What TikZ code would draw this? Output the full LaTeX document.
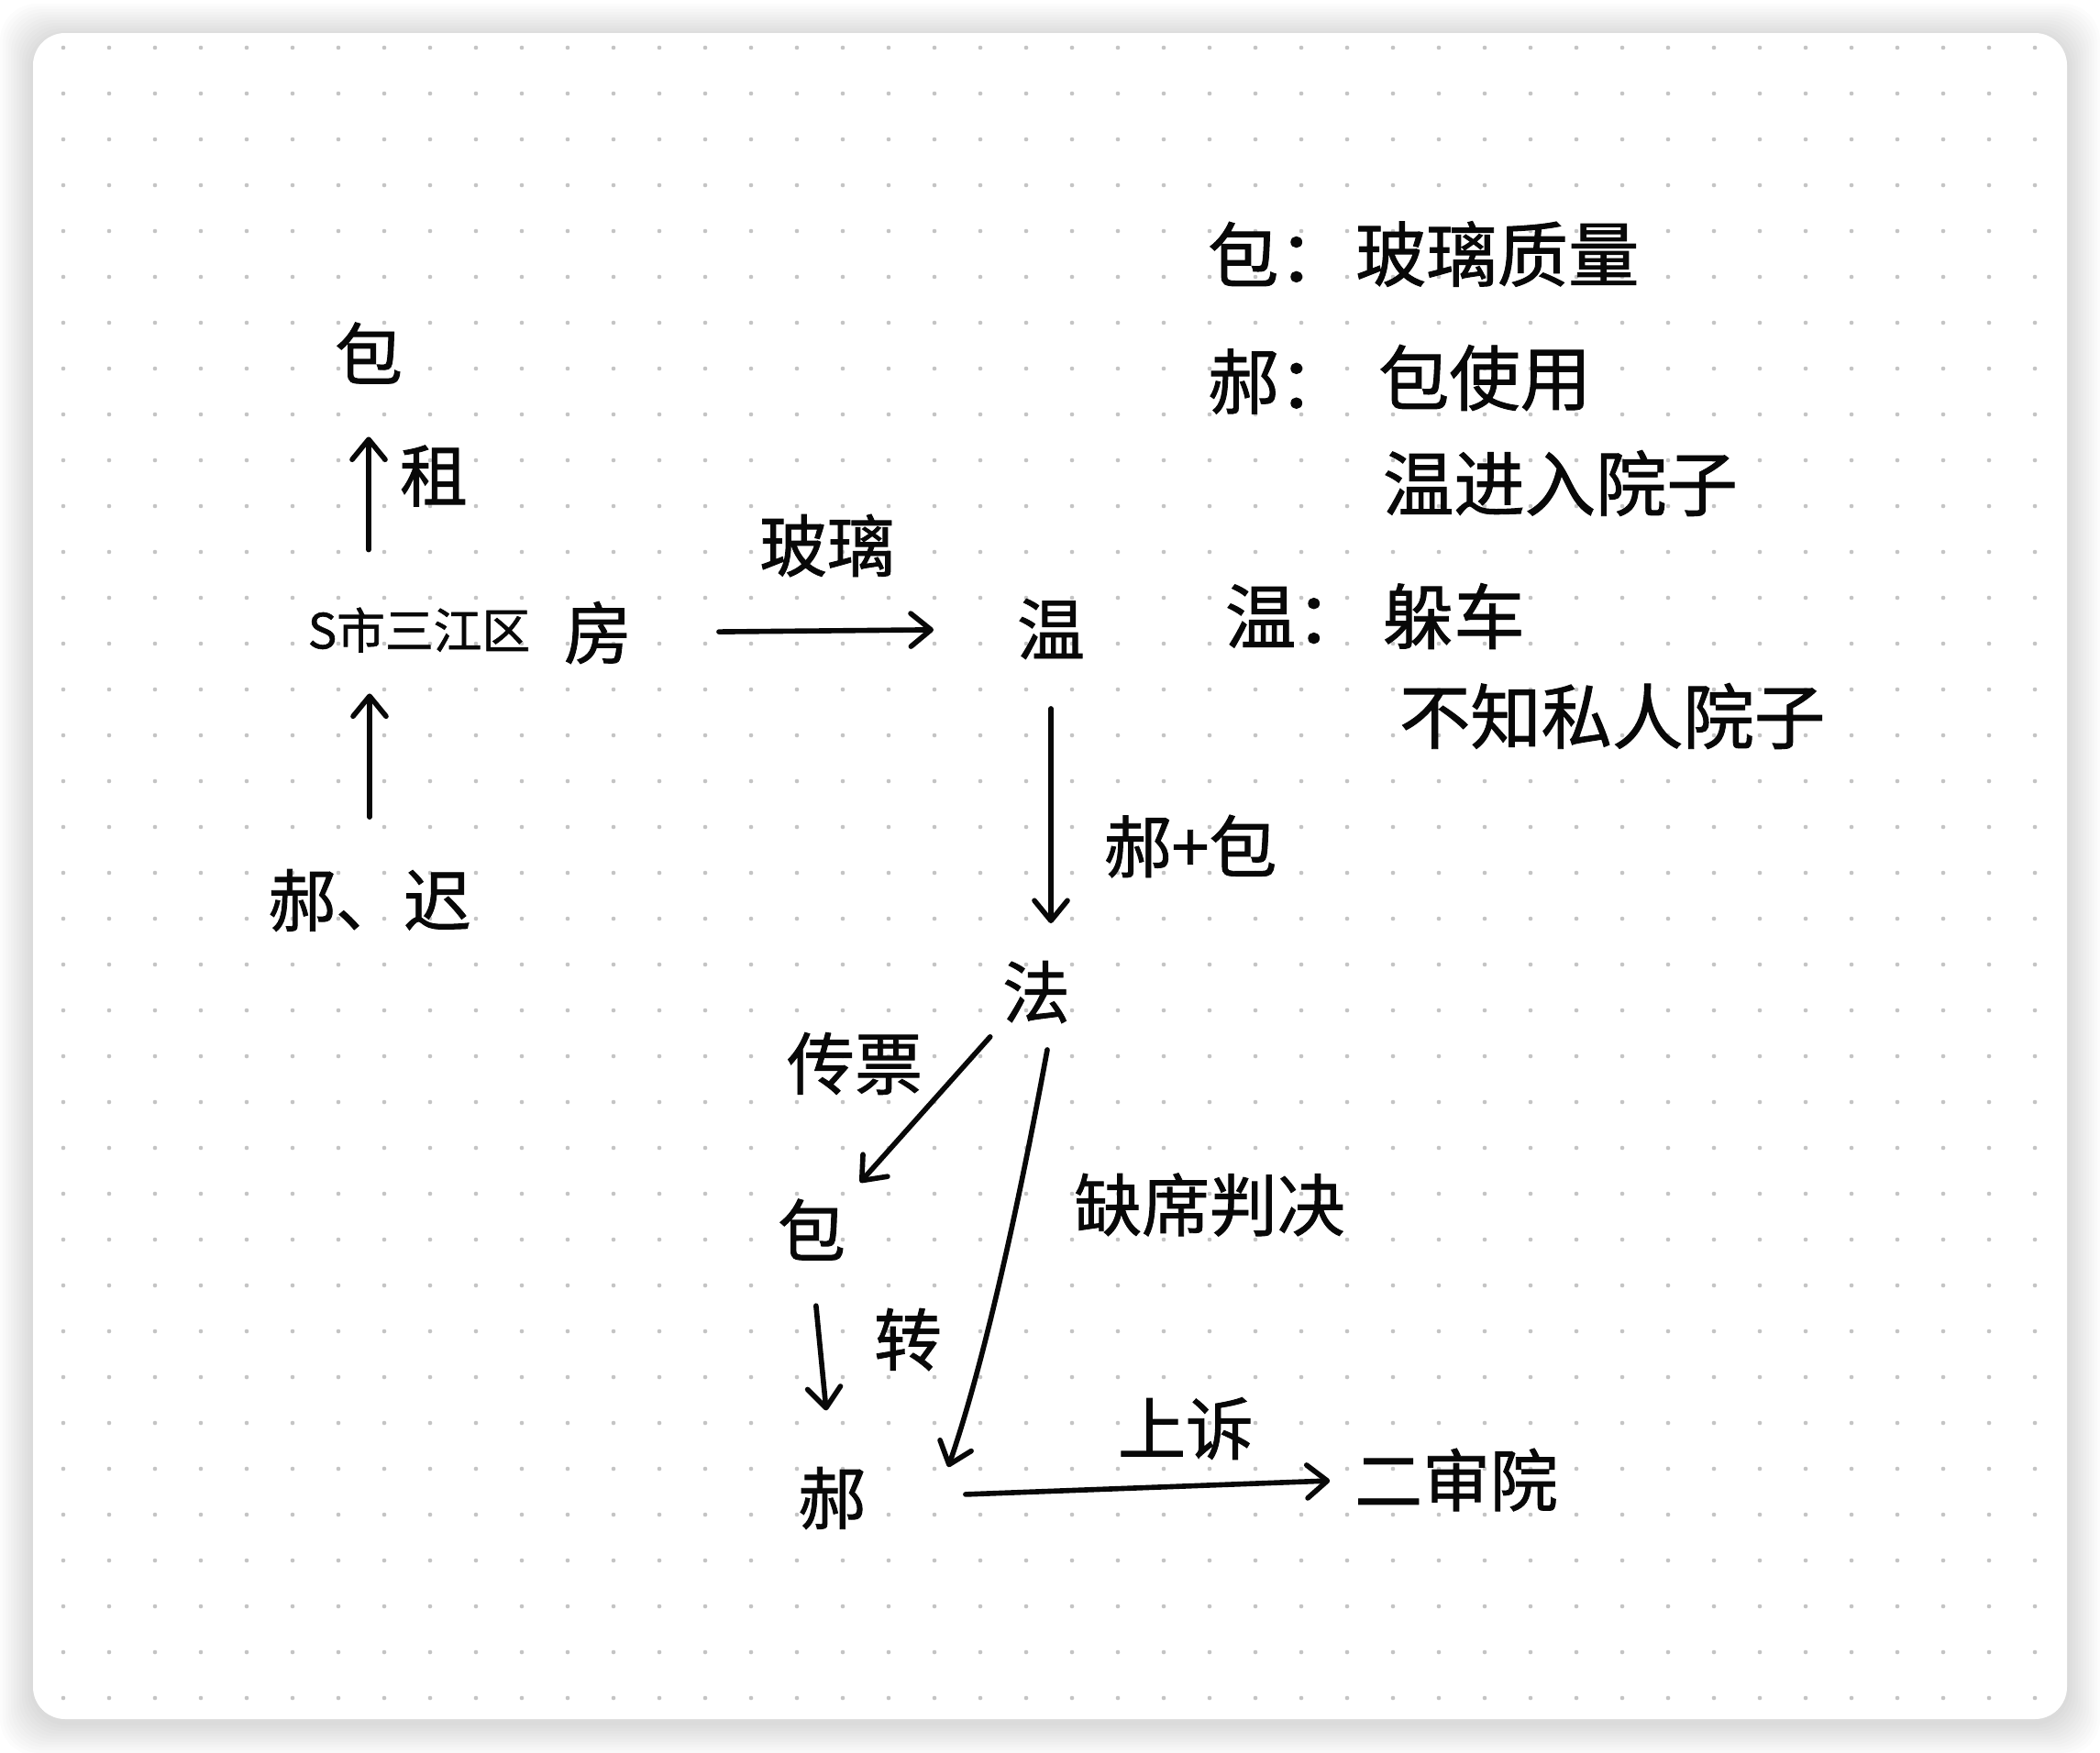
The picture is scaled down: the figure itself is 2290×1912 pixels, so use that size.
\documentclass[tikz,border=0pt]{standalone}
\usepackage{fontspec}
\setmainfont{Noto Sans CJK SC}[FakeBold=1.2]
\usetikzlibrary{arrows.meta,positioning,calc}
\definecolor{inkblack}{RGB}{8,8,8}
\definecolor{dotgray}{RGB}{196,196,196}

\begin{document}
\begin{tikzpicture}[
    x=0.01cm, y=-0.01cm,
    word/.style={inner sep=0pt, outer sep=0pt, text=inkblack,
                 font=\fontsize{21}{25}\selectfont},
    small/.style={word, font=\fontsize{15}{18}\selectfont},
    note/.style={word, anchor=west, font=\fontsize{22}{26}\selectfont},
    arr/.style={-{Straight Barb[round, length=0.22cm, width=0.36cm]},
                line width=1.6pt, line cap=round, inkblack},
  ]
    \useasboundingbox (0,0) rectangle (2290,1912);
    \fill[white] (0,0) rectangle (2290,1912);

    % Card with shadow
    \foreach \s in {1,...,12}
      \fill[black, opacity=0.012, rounded corners=0.4cm]
        ({36-3*\s},{40-3*\s}) rectangle ({2254+3*\s},{1879+3*\s});
    \fill[white, rounded corners=0.35cm] (36,36) rectangle (2254,1875);

    % Dot grid
    \foreach \gx in {69,119,...,2219}
      \foreach \gy in {52,102,...,1852}
        \fill[dotgray] (\gx,\gy) circle[radius=0.023cm];

    % Left chain
    \node[word] (baoTop) at (402,385) {包};
    \node[small] (loc) at (457,687) {S市三江区};
    \node[word] (house) at (652,690) {房};
    \node[word] (chiHao) at (403,982) {郝、迟};
    \node[word] (lblZu) at (473,519) {租};
    \draw[arr, shorten <=0.57cm, shorten >=0.45cm]
      (chiHao.north) -- (chiHao.north |- loc.south);
    \draw[arr, shorten <=0.63cm, shorten >=0.58cm]
      (baoTop.south |- loc.north) -- (baoTop.south);

    % House to Wen, then court
    \node[word] (wen) at (1146,686) {温};
    \node[word] (lblBoli) at (902,595) {玻璃};
    \draw[arr, shorten <=0.95cm, shorten >=0.91cm] (house.east) -- (wen.west);

    \node[word] (fa) at (1130,1082) {法};
    \node[word] (lblHaoBao) at (1298,923) {郝+包};
    \draw[arr, shorten <=0.54cm, shorten >=0.41cm]
      (wen.south) -- (wen.south |- fa.north);

    % Summons and default judgment
    \node[word] (baoMid) at (885,1341) {包};
    \node[word] (lblChuan) at (932,1160) {传票};
    \draw[arr, shorten <=0.2cm, shorten >=0.24cm] (fa.south west) -- (baoMid.north east);

    \node[word] (haoLow) at (907,1634) {郝};
    \node[word] (lblZhuan) at (990,1461) {转};
    \draw[arr, shorten <=0.5cm, shorten >=0.62cm] (baoMid.south) -- (haoLow.north);

    \node[word] (lblQuexi) at (1319,1314) {缺席判决};
    \draw[arr] ([xshift=0.12cm, yshift=-0.29cm]fa.south)
      .. controls +(-22,120) and +(45,-130) .. ([xshift=0.9cm]haoLow.north east);

    % Appeal
    \node[word] (erShen) at (1588,1614) {二审院};
    \node[word] (lblShang) at (1293,1558) {上诉};
    \draw[arr, shorten <=1.09cm, shorten >=0.27cm] (haoLow.east) -- (erShen.west);

    % Notes
    \node[note] (kBao) at (1317,277) {包：};
    \node[note] (vBao) at (1478,277) {玻璃质量};
    \node[note] (kHao) at (1317,416) {郝：};
    \node[note] (vHao1) at (1503,412) {包使用};
    \node[note] (vHao2) at (1508,527) {温进入院子};
    \node[note] (kWen) at (1336,672) {温：};
    \node[note] (vWen1) at (1508,672) {躲车};
    \node[note] (vWen2) at (1526,781) {不知私人院子};
\end{tikzpicture}
\end{document}
